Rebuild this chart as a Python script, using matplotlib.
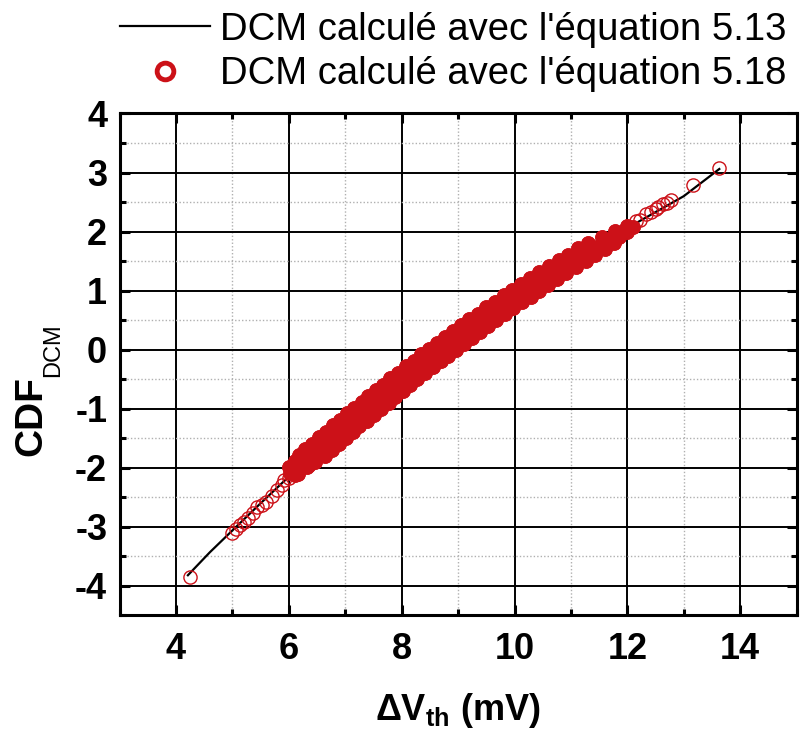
import matplotlib
matplotlib.use('Agg')
import matplotlib.pyplot as plt
from matplotlib.ticker import MultipleLocator

plt.rcParams['font.family'] = ['Liberation Sans', 'DejaVu Sans']
plt.rcParams['mathtext.fontset'] = 'custom'
plt.rcParams['mathtext.rm'] = 'Liberation Sans'
plt.rcParams['mathtext.bf'] = 'Liberation Sans:bold'
plt.rcParams['mathtext.it'] = 'Liberation Sans:italic'
plt.rcParams['axes.unicode_minus'] = False

# DCM from equation 5.13 (black curve)
eq513_x = [4.21, 4.6, 5.0, 5.5, 6.0, 6.5, 7.0, 7.5, 8.0, 8.5, 9.0, 9.5,
           10.0, 10.5, 11.0, 11.5, 12.0, 12.5, 13.0, 13.63]
eq513_y = [-3.82, -3.43, -3.06, -2.6, -2.15, -1.72, -1.31, -0.92, -0.53, -0.16, 0.2, 0.54,
           0.87, 1.19, 1.49, 1.78, 2.06, 2.33, 2.6, 3.06]

# DCM from equation 5.18 (red circles): sparse lower tail
low_x = [4.24, 4.99, 5.06, 5.13, 5.2, 5.28, 5.36, 5.43, 5.52, 5.6, 5.7, 5.79, 5.88,
         5.92, 6.0]
low_y = [-3.85, -3.1, -3.04, -2.97, -2.91, -2.85, -2.76, -2.67, -2.63, -2.58, -2.47, -2.38, -2.3,
         -2.2, -2.18]

# dense central band
band_x = [
    6.02, 6.1, 6.16,    6.0, 6.18, 6.33,    6.1, 6.3, 6.47,
    6.18, 6.42, 6.64,   6.29, 6.53, 6.76,   6.41, 6.66, 6.89,   6.53, 6.78, 7.01,
    6.66, 6.9, 7.14,    6.78, 7.02, 7.25,   6.9, 7.15, 7.38,    7.03, 7.28, 7.51,
    7.16, 7.41, 7.64,   7.29, 7.54, 7.77,   7.41, 7.66, 7.89,   7.54, 7.79, 8.02,
    7.67, 7.92, 8.15,   7.8, 8.05, 8.28,    7.94, 8.19, 8.42,   8.07, 8.32, 8.55,
    8.21, 8.46, 8.69,   8.34, 8.59, 8.82,   8.48, 8.73, 8.96,   8.62, 8.87, 9.1,
    8.76, 9.01, 9.24,   8.91, 9.16, 9.39,   9.05, 9.3, 9.53,    9.2, 9.45, 9.68,
    9.35, 9.6, 9.83,    9.5, 9.75, 9.98,    9.65, 9.9, 10.13,   9.81, 10.06, 10.29,
    9.96, 10.21, 10.44, 10.12, 10.37, 10.6, 10.28, 10.53, 10.76, 10.44, 10.69, 10.92,
    10.61, 10.86, 11.09, 10.78, 11.03, 11.26, 10.95, 11.2, 11.43, 11.12, 11.37, 11.6,
    11.3, 11.55, 11.76,
    11.55, 11.72, 11.86, 11.78, 11.9, 12.0, 12.0, 12.1,
]
band_y = [
    -2.08, -2.12, -2.1,  -1.98, -2.02, -1.99, -1.88, -1.91, -1.9,
    -1.79, -1.82, -1.8,  -1.68, -1.71, -1.7,  -1.59, -1.62, -1.6,  -1.48, -1.51, -1.5,
    -1.39, -1.42, -1.4,  -1.28, -1.31, -1.3,  -1.19, -1.22, -1.2,  -1.08, -1.11, -1.1,
    -0.99, -1.02, -1.0,  -0.88, -0.91, -0.9,  -0.79, -0.82, -0.8,  -0.68, -0.71, -0.7,
    -0.59, -0.62, -0.6,  -0.48, -0.51, -0.5,  -0.39, -0.42, -0.4,  -0.28, -0.31, -0.3,
    -0.19, -0.22, -0.2,  -0.08, -0.11, -0.1,  0.01, -0.02, 0.0,    0.12, 0.09, 0.1,
    0.21, 0.18, 0.2,     0.32, 0.29, 0.3,     0.41, 0.38, 0.4,     0.52, 0.49, 0.5,
    0.61, 0.58, 0.6,     0.72, 0.69, 0.7,     0.81, 0.78, 0.8,     0.92, 0.89, 0.9,
    1.01, 0.98, 1.0,     1.12, 1.09, 1.1,     1.21, 1.18, 1.2,     1.32, 1.29, 1.3,
    1.41, 1.38, 1.4,     1.52, 1.49, 1.5,     1.61, 1.58, 1.6,     1.72, 1.69, 1.7,
    1.81, 1.78, 1.8,
    1.91, 1.88, 1.9, 2.01, 1.98, 2.0, 2.1, 2.08,
]
band2_x = [
    6.1, 6.13, 6.35, 6.25, 6.47, 6.37, 6.58, 6.49, 6.7, 6.61, 6.83, 6.73, 6.95,
    6.85, 7.07, 6.98, 7.19, 7.11, 7.32, 7.24, 7.45, 7.37, 7.58, 7.49, 7.71,
    7.62, 7.83, 7.75, 7.96, 7.88, 8.09, 8.01, 8.23, 8.15, 8.36, 8.28, 8.5,
    8.42, 8.63, 8.55, 8.77, 8.69, 8.91, 8.83, 9.05, 8.98, 9.19, 9.12, 9.34,
    9.27, 9.48, 9.42, 9.63, 9.57, 9.78, 9.72, 9.93, 9.87, 10.09, 10.03, 10.24,
    10.18, 10.4, 10.34, 10.56, 10.5, 10.72, 10.67, 10.88, 10.84, 11.05,
    11.01, 11.22, 11.18, 11.39, 11.35, 11.57, 11.56, 11.7, 11.8, 11.98,
]
band2_y = [
    -2.05, -1.94, -1.96, -1.84, -1.86, -1.74, -1.76, -1.64, -1.66, -1.54, -1.56, -1.44, -1.46,
    -1.34, -1.36, -1.24, -1.26, -1.14, -1.16, -1.04, -1.06, -0.94, -0.96, -0.84, -0.86,
    -0.74, -0.76, -0.64, -0.66, -0.54, -0.56, -0.44, -0.46, -0.34, -0.36, -0.24, -0.26,
    -0.14, -0.16, -0.04, -0.06, 0.06, 0.04, 0.16, 0.14, 0.26, 0.24, 0.36, 0.34,
    0.46, 0.44, 0.56, 0.54, 0.66, 0.64, 0.76, 0.74, 0.86, 0.84, 0.96, 0.94,
    1.06, 1.04, 1.16, 1.14, 1.26, 1.24, 1.36, 1.34, 1.46, 1.44,
    1.56, 1.54, 1.66, 1.64, 1.76, 1.74, 1.86, 1.84, 1.95, 2.05,
]

# sparse upper tail
high_x = [12.15, 12.22, 12.33, 12.42, 12.5, 12.55, 12.63, 12.7, 12.78, 13.17, 13.63]
high_y = [2.18, 2.2, 2.29, 2.34, 2.38, 2.42, 2.46, 2.49, 2.54, 2.79, 3.08]

eq518_x = low_x + band_x + band2_x + high_x
eq518_y = low_y + band_y + band2_y + high_y
dense_x = band_x + band2_x
dense_y = band_y + band2_y

RED = '#CC1118'

fig = plt.figure(figsize=(8.03, 7.37), dpi=100)
ax = fig.add_axes([0.149, 0.165, 0.843, 0.681])

ax.plot(eq513_x, eq513_y, color='black', lw=1.6, zorder=3,
        label="DCM calculé avec l'équation 5.13")
# hundreds of overlapping circles merge into a solid band in the middle
ax.plot(dense_x, dense_y, ls='none', marker='o', ms=9.5, mfc=RED,
        mec=RED, mew=1.0, zorder=4)
ax.plot(eq518_x, eq518_y, ls='none', marker='o', ms=9.5, mfc='none',
        mec=RED, mew=1.0, zorder=4,
        label="DCM calculé avec l'équation 5.18")

ax.set_xlim(3, 15)
ax.set_ylim(-4.5, 4)
ax.xaxis.set_major_locator(MultipleLocator(2))
ax.xaxis.set_minor_locator(MultipleLocator(1))
ax.yaxis.set_major_locator(MultipleLocator(1))
ax.yaxis.set_minor_locator(MultipleLocator(0.5))

ax.grid(which='major', color='black', lw=1.4, zorder=1)
ax.grid(which='minor', color='#b0b0b0', lw=1.0, ls=(0, (1, 1.5)), zorder=1)
ax.set_axisbelow(True)

for s in ax.spines.values():
    s.set_linewidth(2.2)
ax.tick_params(which='both', direction='in', top=True, right=True, width=2.2)
ax.tick_params(which='major', length=7)
ax.tick_params(which='minor', length=4)
ax.tick_params(axis='x', which='major', pad=12)
ax.tick_params(axis='y', which='major', pad=9)
for lab in ax.get_xticklabels() + ax.get_yticklabels():
    lab.set_fontsize(26)
    lab.set_fontweight('bold')

ax.set_xlabel(r'$\mathbf{\Delta V_{th}}$ $\mathbf{(mV)}$', fontsize=26, labelpad=17)

# y label: big bold CDF with a well-dropped regular subscript
fig.text(31 / 803, 1 - 416 / 737, 'CDF', rotation=90, fontsize=28, fontweight='bold',
         ha='center', va='center')
fig.text(53 / 803, 1 - 350 / 737, 'DCM', rotation=90, fontsize=17,
         ha='center', va='center')

leg = fig.legend(loc='upper right', bbox_to_anchor=(1.008, 1.015), frameon=False,
                 fontsize=27.5, handlelength=2.35, handletextpad=0.27,
                 labelspacing=0.22, borderpad=0.1)
leg.legend_handles[1].set_markersize(12)
leg.legend_handles[1].set_markeredgewidth(3.5)

fig.savefig('out.png', dpi=100)
